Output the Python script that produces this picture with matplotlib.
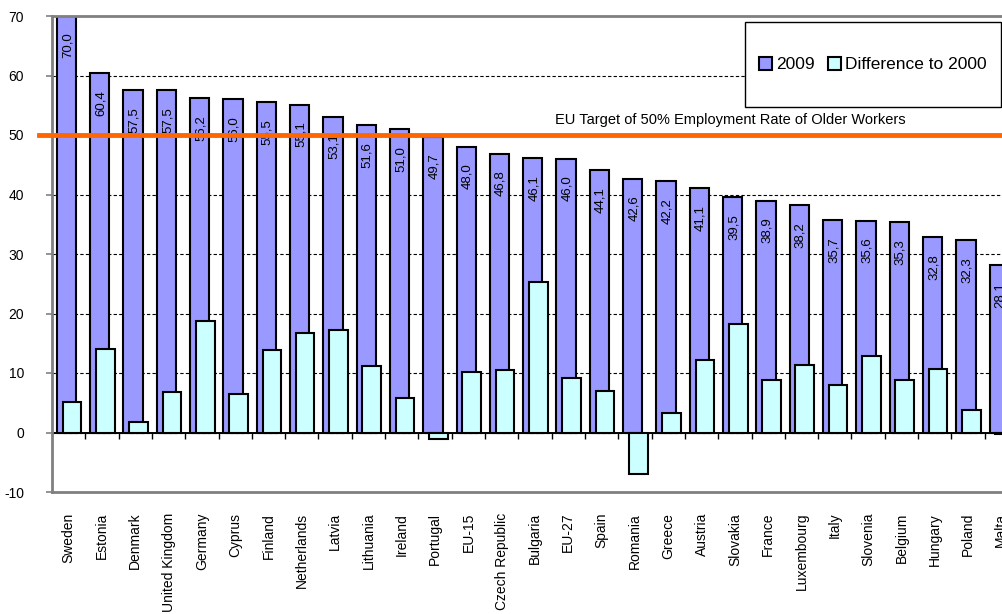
import numpy as np
import matplotlib
matplotlib.use("Agg")
import matplotlib.pyplot as plt
from matplotlib.patches import Rectangle

plt.rcParams['font.family'] = ['Liberation Sans', 'DejaVu Sans']
plt.rcParams['axes.unicode_minus'] = False

# Data (employment rate of older workers, %)
countries = ["Sweden", "Estonia", "Denmark", "United Kingdom", "Germany", "Cyprus",
             "Finland", "Netherlands", "Latvia", "Lithuania", "Ireland", "Portugal",
             "EU-15", "Czech Republic", "Bulgaria", "EU-27", "Spain", "Romania",
             "Greece", "Austria", "Slovakia", "France", "Luxembourg", "Italy",
             "Slovenia", "Belgium", "Hungary", "Poland", "Malta"]
rate_2009 = [70.0, 60.4, 57.5, 57.5, 56.2, 56.0, 55.5, 55.1, 53.1, 51.6, 51.0, 49.7,
             48.0, 46.8, 46.1, 46.0, 44.1, 42.6, 42.2, 41.1, 39.5, 38.9, 38.2, 35.7,
             35.6, 35.3, 32.8, 32.3, 28.1]
diff_2000 = [5.1, 14.1, 1.8, 6.8, 18.7, 6.5, 13.9, 16.8, 17.2, 11.1, 5.8, -1.1,
             10.1, 10.5, 25.3, 9.1, 7.0, -7.0, 3.2, 12.2, 18.2, 8.9, 11.3, 8.0,
             12.8, 8.9, 10.6, 3.8, -0.3]
target = 50
target_label = "EU Target of 50% Employment Rate of Older Workers"
yticks = [-10, 0, 10, 20, 30, 40, 50, 60, 70]

purple = '#9999FF'
cyan = '#CCFFFF'
orange = '#FF6600'
gray = '#808080'

W, H = 1002, 614
fig = plt.figure(figsize=(W / 100, H / 100), dpi=100)
ax = fig.add_axes([52 / W, 122 / H, 966 / W, 476 / H])

x = np.arange(len(countries))
b1 = ax.bar(x - 0.065, rate_2009, width=0.58, color=purple, edgecolor='black',
            linewidth=1.5, zorder=2, label='2009')
b2 = ax.bar(x + 0.1, diff_2000, width=0.56, color=cyan, edgecolor='black',
            linewidth=1.5, zorder=3, label='Difference to 2000')

# value labels inside the 2009 bars
for xi, v in zip(x, rate_2009):
    ax.annotate(f"{v:.1f}".replace('.', ','), (xi - 0.035, v), xytext=(0, -12),
                textcoords='offset points', rotation=90, ha='center', va='top',
                fontsize=9.5, zorder=4)

ax.set_xlim(-0.5, len(countries) - 0.5)
ax.set_ylim(yticks[0], yticks[-1])
ax.set_yticks(yticks)
ax.yaxis.grid(True, linestyle=(0, (3, 2)), color='black', linewidth=0.8)
ax.set_axisbelow(True)

# target line
xl = ax.get_xlim()
ax.plot([xl[0] - 0.4, xl[1] + 1], [target, target], color=orange, lw=3.5,
        zorder=5, clip_on=False)
ax.text(14.6, target + 1.9, target_label, fontsize=10.5, ha='left', va='baseline')

# zero line with category ticks
ax.axhline(0, color='black', lw=1.2, zorder=1)
sec = ax.secondary_xaxis((0 - yticks[0]) / (yticks[-1] - yticks[0]))
sec.set_xticks(x + 0.5)
sec.tick_params(axis='x', length=4, width=1, color='black', labelbottom=False)
sec.spines['bottom'].set_color('black')
sec.spines['bottom'].set_linewidth(1.2)

ax.set_xticks(x)
ax.set_xticklabels(countries, rotation=90, fontsize=10)
ax.tick_params(axis='x', length=0, pad=15)
ax.tick_params(axis='y', length=4, width=1.2, color=gray, labelsize=10, pad=16)

for s in ['left', 'top', 'bottom']:
    ax.spines[s].set_color(gray)
    ax.spines[s].set_linewidth(2)
ax.spines['right'].set_visible(False)

# legend box
fig.patches.append(Rectangle((745 / W, 1 - 107 / H), 256 / W, 85 / H,
                             transform=fig.transFigure, facecolor='white',
                             edgecolor='black', lw=1, zorder=4))
fig.legend(handles=[b1, b2], loc='center', bbox_to_anchor=(873 / W, 1 - 64.5 / H),
           ncol=2, frameon=False, fontsize=12.5, handlelength=0.75,
           handleheight=0.75, handletextpad=0.2, columnspacing=0.8)

fig.savefig("out.png", dpi=100)
